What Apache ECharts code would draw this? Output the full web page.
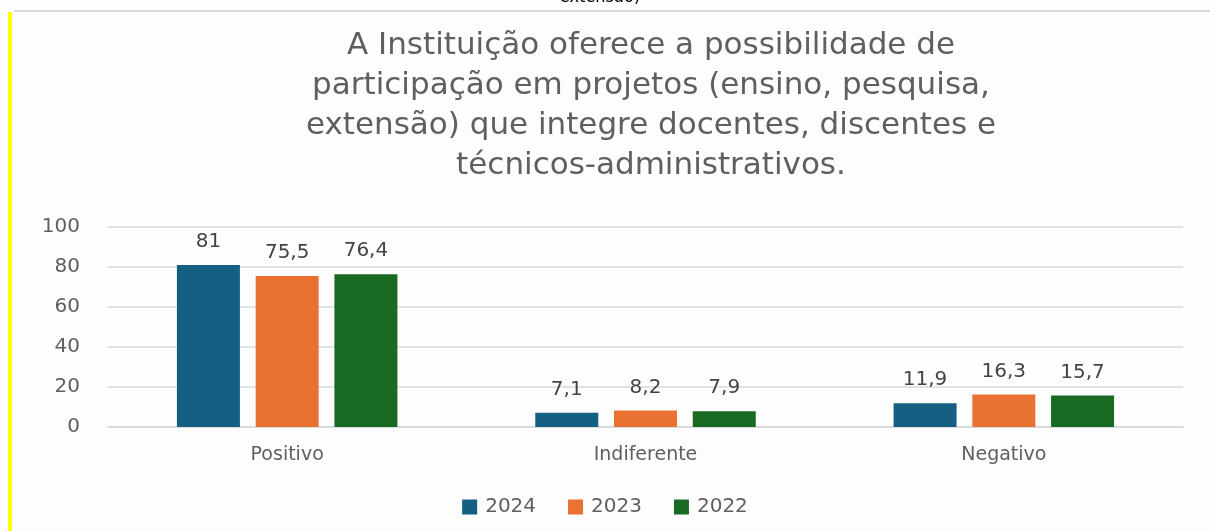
<!DOCTYPE html>
<html><head><meta charset="utf-8">
<script src="https://cdn.jsdelivr.net/npm/echarts@6/dist/echarts.min.js"></script>
<style>html,body{margin:0;padding:0;background:#fff}#c{width:1210px;height:531px}</style>
</head><body><div id="c"></div>
<script>
const categories = ['Positivo', 'Indiferente', 'Negativo'];
const seriesNames = ['2024', '2023', '2022'];
const values2024 = [81, 7.1, 11.9];
const values2023 = [75.5, 8.2, 16.3];
const values2022 = [76.4, 7.9, 15.7];
const yTicks = [0, 20, 40, 60, 80, 100];
const colors = ['#156082', '#E97132', '#196B24'];
const titleText = 'A Instituição oferece a possibilidade de\nparticipação em projetos (ensino, pesquisa,\nextensão) que integre docentes, discentes e\ntécnicos-administrativos.';

const chart = echarts.init(document.getElementById('c'));
const allValues = [values2024, values2023, values2022];
const fmt = p => String(p.value).replace('.', ',');
chart.setOption({
  backgroundColor: '#fdfdfd',
  animation: false,
  title: {
    text: titleText,
    left: 646, textAlign: 'center', top: 21,
    textStyle: { fontFamily: 'DejaVu Sans', fontSize: 31, fontWeight: 'normal', color: '#5f5f5f', lineHeight: 40 }
  },
  legend: {
    data: seriesNames, top: 492, left: 'center', itemWidth: 15, itemHeight: 15, itemGap: 32,
    icon: 'rect',
    textStyle: { fontFamily: 'DejaVu Sans', fontSize: 20, color: '#5f5f5f', padding: [0, 0, 0, 3] }
  },
  grid: { left: 108, right: 27, top: 227, bottom: 104 },
  xAxis: {
    type: 'category', data: categories,
    axisLine: { show: true, lineStyle: { color: '#d9d9d9', width: 1.5 } },
    axisTick: { show: false },
    axisLabel: { margin: 19, fontFamily: 'DejaVu Sans', fontSize: 19, color: '#5f5f5f' }
  },
  yAxis: {
    type: 'value', min: yTicks[0], max: yTicks[yTicks.length - 1], interval: 20,
    axisLine: { show: false }, axisTick: { show: false },
    axisLabel: { margin: 28, fontFamily: 'DejaVu Sans', fontSize: 20, color: '#5f5f5f' },
    splitLine: { lineStyle: { color: '#d9d9d9', width: 1.5 } }
  },
  series: seriesNames.map((n, i) => ({
    name: n, type: 'bar', data: allValues[i], barWidth: 63, barGap: '25%',
    itemStyle: { color: colors[i] },
    label: { show: true, position: 'top', distance: 13, formatter: fmt,
      fontFamily: 'DejaVu Sans', fontSize: 20, color: '#444444' }
  })),
  graphic: [
    { type: 'rect', shape: { x: 8, y: 12, width: 4, height: 519 }, style: { fill: '#ffff00' }, silent: true },
    { type: 'rect', shape: { x: 14, y: 10, width: 1196, height: 2 }, style: { fill: '#d9d9d9' }, silent: true },
    { type: 'text', x: 600, y: -12, style: { text: 'extensão)', fontFamily: 'DejaVu Sans Condensed, sans-serif', fontSize: 18, fill: '#000', textAlign: 'center' } }
  ]
});
</script></body></html>
